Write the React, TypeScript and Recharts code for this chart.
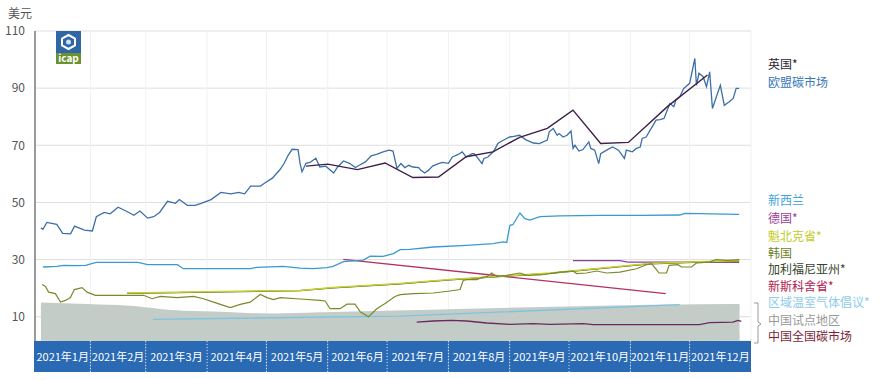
import { ComposedChart, Line, Area, XAxis, YAxis, CartesianGrid } from 'recharts';

// x values are day-of-year 2021 (Jan 1 = 0)
const monthStarts = [3, 31, 59, 90, 120, 151, 181, 212, 243, 273, 304, 334];
const monthLabels = ['2021年1月', '2021年2月', '2021年3月', '2021年4月', '2021年5月', '2021年6月', '2021年7月', '2021年8月', '2021年9月', '2021年10月', '2021年11月', '2021年12月'];
const yTicks = [10, 30, 50, 70, 90, 110];

const euPrices: [number, number][] = [
    [6, 41.1], [7, 40.6], [9, 43], [14, 42.3], [17, 39.2], [21, 39], [23, 41.7], [28, 40.3], [32, 40], [34, 45],
    [38, 46.5], [41, 46], [45, 48.3], [49, 47], [53, 45.5], [56, 47], [60, 44.5], [63, 45], [66, 46.5], [70, 50.4],
    [74, 49.7], [76, 51], [80, 49], [84, 49], [87, 49.7], [92, 51], [97, 53.5], [102, 53], [106, 53.5], [109, 53],
    [112, 55.7], [117, 55.7], [119, 56.7], [123, 58.5], [127, 61.6], [129, 63.7], [131, 66.5], [133, 68.6], [136, 68.5], [137, 63.7],
    [138, 60.7], [140, 63.7], [142, 64], [145, 65.5], [147, 62.4], [150, 62.7], [154, 60.3], [156, 62.4], [159, 64.5], [162, 63.7],
    [165, 62.2], [167, 63], [170, 64.2], [173, 66.3], [176, 66.9], [179, 67.7], [182, 68.3], [184, 68], [186, 61.9], [188, 63.6],
    [190, 62.2], [192, 63], [194, 62.4], [197, 62.2], [198, 61.3], [200, 60.3], [202, 61.3], [204, 62.7], [207, 63.6], [209, 64],
    [212, 63.7], [214, 65.9], [217, 66.8], [219, 67.7], [221, 65.9], [224, 67.1], [225, 67.1], [227, 65.4], [229, 63.6], [230, 65.4],
    [232, 65.9], [235, 68], [237, 70.6], [239, 71.5], [241, 72.2], [243, 72.9], [245, 73.1], [248, 73.5], [251, 72], [255, 70.8],
    [258, 70.6], [262, 71.8], [263, 74.7], [265, 75.9], [267, 73.5], [268, 74.1], [270, 72.9], [272, 73.5], [274, 75], [275, 68.9],
    [276, 70], [278, 68], [280, 68.5], [283, 71.2], [284, 68.9], [286, 68.3], [288, 63.6], [289, 67.1], [292, 68.3], [295, 69.4],
    [298, 68.3], [301, 65.4], [302, 68.3], [305, 67.7], [307, 68.9], [309, 69.4], [310, 72.4], [312, 72.9], [314, 75.3], [316, 77.6],
    [317, 78.8], [319, 79], [321, 79.4], [322, 81.1], [324, 84.6], [326, 83.5], [327, 85.8], [329, 87], [331, 89.9], [332, 90.5],
    [334, 91.7], [335.7, 97.4], [336.6, 100.4], [337.4, 91], [338.7, 95.2], [340.8, 94], [342.5, 90.5], [344.1, 95.7], [345.5, 82.9], [347.5, 87],
    [349.5, 91], [351.5, 84], [354, 85.2], [356, 86.4], [357.5, 89.9], [359, 89.9],
];

const ukPrices: [number, number][] = [
    [140, 62.7], [151, 63.4], [166, 61.5], [180, 63.8], [194, 58.7], [207, 58.9], [221, 66], [234.5, 67.7],
    [248, 72.8], [262, 75.9], [275, 82.3], [289, 70.6], [303, 71], [323, 83.7], [343, 94.6],
];

const nzPrices: [number, number][] = [
    [7, 27.4], [14, 27.6], [17.5, 28], [24, 27.9], [28.5, 28], [34, 29], [41, 29], [55, 29], [60, 28.2], [75, 28.2],
    [78, 26.8], [95, 26.8], [112, 26.8], [115, 27.3], [128.6, 27.6], [137, 27], [143.6, 26.8], [150.6, 27.2], [153.7, 27.6], [159, 29.3],
    [169, 29.8], [172.4, 31.2], [179, 31.1], [184.2, 32.1], [187.6, 33.5], [192.6, 33.6], [204.4, 34.4], [221.3, 35], [234.7, 35.6], [239.7, 36.2],
    [241.5, 36], [243.1, 42], [244.6, 42.2], [248.2, 46.3], [250.7, 44.3], [253.2, 43.8], [258.3, 45], [268.4, 45.3], [288.6, 45.5], [308.8, 45.5],
    [329, 45.6], [331.5, 46.2], [359, 45.8],
];

const dePrices: [number, number][] = [[275, 29.6], [298.7, 29.6], [302.7, 29.1], [339, 29.1], [359, 29]];

const qcPrices: [number, number][] = [
    [49.5, 18.3], [137, 19.2], [153.7, 20.2], [187.6, 21.6], [212.8, 23], [263.3, 25.3], [313.8, 28.6], [339, 29.2], [359, 29.6],
];

const caPrices: [number, number][] = [
    [49.5, 18.2], [137, 19.1], [153.7, 20.1], [187.6, 21.5], [212.8, 22.9], [263.3, 25.2], [313.8, 28.5], [339, 29.1], [359, 29.5],
];

const krPrices: [number, number][] = [
    [6.6, 21.3], [8.3, 20.6], [9.9, 18.6], [13.3, 18.1], [15.9, 15.1], [18.4, 15.7], [20.9, 16.7], [22.9, 19.5], [26.8, 20.2], [29.3, 18.6],
    [33.5, 17.5], [57.9, 17.5], [62.2, 16.3], [66.4, 17.1], [74.8, 16.7], [83.2, 17.1], [88.2, 16.3], [93.3, 15.1], [96.7, 14.3], [101.7, 13.2],
    [106.8, 14.3], [111.8, 15.1], [116.9, 17.8], [120.3, 16.7], [123.6, 16], [127, 16.7], [137, 16.2], [147.2, 15.7], [149.7, 15.5], [152.2, 12.8],
    [157.3, 12.8], [160.7, 14.4], [164.8, 14.4], [167.4, 11.7], [171.6, 10], [175.8, 12.8], [180, 14.6], [185, 17.1], [187.6, 17.7], [194.3, 18.1],
    [204.4, 18.3], [212.8, 19], [217.9, 19.5], [219.5, 22.7], [221.3, 23], [226.3, 23], [228.8, 23.7], [231.4, 24], [233.9, 25.3], [236.4, 24.1],
    [241.5, 24.5], [248.2, 25.3], [251.6, 24.5], [258.3, 24.6], [268.4, 25.6], [275.1, 26], [276.8, 25.1], [281.9, 25.3], [286.9, 26], [292, 25.3],
    [298.7, 25.6], [307.1, 26.8], [312.2, 28.2], [314.7, 28.6], [317.2, 26.5], [318.5, 25.3], [322.3, 25.3], [323.6, 28], [328.1, 28.2], [329.8, 27.4],
    [334.9, 27.4], [337.4, 28.8], [339.9, 28.9], [344.1, 29.2], [347.5, 30], [352.6, 29.7], [359.2, 30],
];

const nsPrices: [number, number][] = [[158.9, 30.1], [321.9, 18.1]];

const rggiPrices: [number, number][] = [[62.8, 9.1], [187.6, 10.2], [329, 14.2]];

const cnNationalPrices: [number, number][] = [
    [196, 8.1], [204.4, 8.5], [213.7, 8.7], [221.3, 8.5], [231.4, 7.8], [243.1, 7.3], [254.9, 7.6], [263.3, 7.3], [280.2, 7.6], [285.2, 7.2],
    [339, 7.2], [344, 7.9], [355.9, 8.1], [358.4, 8.7], [360.1, 8.4],
];

// China pilots: [day, low, high]
const cnPilotRange: [number, number, number][] = [
    [6, 2.6, 13.9], [29.3, 2.5, 13.4], [51.2, 2.4, 12.8], [71.4, 2.4, 11.3], [96.7, 2.4, 10.7], [121.9, 2.4, 10.1], [147.2, 2.4, 10.5],
    [163.8, 2.4, 10.8], [197.7, 2.4, 11.3], [238.1, 2.4, 12], [288.6, 2.5, 12.8], [355.8, 2.6, 13.4], [359.2, 2.6, 13.4],
];

const legendItems = [
    { label: '英国*', color: '#2b2233', y: 64 },
    { label: '欧盟碳市场', color: '#3a78b8', y: 82 },
    { label: '新西兰', color: '#45a3dc', y: 200 },
    { label: '德国*', color: '#9a3f94', y: 218 },
    { label: '魁北克省*', color: '#c3cc2a', y: 236 },
    { label: '韩国', color: '#6d7f28', y: 253 },
    { label: '加利福尼亚州*', color: '#34452a', y: 269 },
    { label: '新斯科舍省*', color: '#b3204f', y: 286 },
    { label: '区域温室气体倡议*', color: '#8ecbea', y: 302 },
    { label: '中国试点地区', color: '#999999', y: 320 },
    { label: '中国全国碳市场', color: '#7b1f3c', y: 336 },
];

const W = 881;
const H = 380;
const MARGIN = { top: 31, right: 130, bottom: 8, left: 0 };
const Y_AXIS_W = 35;
const X_MIN = 3;
const X_MAX = 365;
const PX_PER_DAY = (W - MARGIN.left - MARGIN.right - Y_AXIS_W) / (X_MAX - X_MIN);
const FONT = '"Noto Sans CJK SC", "Noto Sans", sans-serif';

const toPoints = (arr: [number, number][]) => arr.map(([d, v]) => ({ d, v }));

function MonthTick(props: any) {
    const { x, y, payload } = props;
    const i = monthStarts.indexOf(payload.value);
    if (i < 0) return null;
    const next = i < monthStarts.length - 1 ? monthStarts[i + 1] : X_MAX;
    const w = (next - payload.value) * PX_PER_DAY;
    return (
        <g>
            <rect x={x - (i === 0 ? 1 : 0)} y={y} width={w + (i === 0 ? 1 : 0)} height={31} fill="#2a69b3" />
            {i > 0 && <line x1={x} x2={x} y1={y} y2={y + 31} stroke="#ffffff" strokeOpacity={0.8} strokeDasharray="1 2" />}
            <text x={x + w / 2} y={y + 20} textAnchor="middle" fill="#ffffff" fontSize={11} fontFamily={FONT}>
                {monthLabels[i]}
            </text>
        </g>
    );
}

function IcapLogo() {
    return (
        <svg width={25} height={33} style={{ position: 'absolute', left: 56, top: 31 }}>
            <rect x={0} y={0} width={25} height={22} fill="#2f67a6" />
            <polygon points="12.5,4 19,7.5 19,14.5 12.5,18 6,14.5 6,7.5" fill="none" stroke="#ffffff" strokeWidth={2} />
            <circle cx={12.5} cy={11} r={2.5} fill="#cfe0f0" />
            <rect x={0} y={22} width={25} height={11} fill="#6b9130" />
            <text x={12.5} y={31} textAnchor="middle" fill="#ffffff" fontSize={10} fontWeight="bold" fontFamily={FONT}>icap</text>
        </svg>
    );
}

export default function App() {
    return (
        <div style={{ position: 'absolute', left: 0, top: 0, width: W, height: H, background: '#fff', fontFamily: FONT }}>
            <ComposedChart width={W} height={H} margin={MARGIN}>
                <CartesianGrid stroke="#dedede" vertical={false} />
                <CartesianGrid stroke="#f1f1f1" horizontal={false} />
                <XAxis
                    dataKey="d"
                    type="number"
                    domain={[X_MIN, X_MAX]}
                    ticks={monthStarts}
                    interval={0}
                    tick={<MonthTick />}
                    tickLine={false}
                    axisLine={false}
                    tickSize={0}
                    tickMargin={0}
                    height={31}
                    allowDataOverflow
                />
                <YAxis
                    type="number"
                    domain={[1.5, 110]}
                    ticks={yTicks}
                    width={Y_AXIS_W}
                    tickLine={false}
                    tickSize={0}
                    tickMargin={10}
                    axisLine={{ stroke: '#9a9a9a', strokeWidth: 2 }}
                    tick={{ fill: '#555', fontSize: 12, fontFamily: FONT }}
                    allowDataOverflow
                />
                <Area
                    data={cnPilotRange.map(([d, lo, hi]) => ({ d, r: [lo, hi] }))}
                    dataKey="r"
                    type="monotone"
                    stroke="#c4ccc8"
                    strokeWidth={6}
                    strokeLinejoin="round"
                    fill="#c4ccc8"
                    fillOpacity={1}
                    isAnimationActive={false}
                />
                <Line data={toPoints(rggiPrices)} dataKey="v" stroke="#7ec4e0" strokeWidth={1.3} dot={false} isAnimationActive={false} />
                <Line data={toPoints(cnNationalPrices)} dataKey="v" stroke="#6b2a5e" strokeWidth={1.3} dot={false} isAnimationActive={false} />
                <Line data={toPoints(nsPrices)} dataKey="v" stroke="#b5305e" strokeWidth={1.3} dot={false} isAnimationActive={false} />
                <Line data={toPoints(dePrices)} dataKey="v" stroke="#8b4396" strokeWidth={1.3} dot={false} isAnimationActive={false} />
                <Line data={toPoints(caPrices)} dataKey="v" stroke="#34452a" strokeWidth={1.3} dot={false} isAnimationActive={false} />
                <Line data={toPoints(qcPrices)} dataKey="v" stroke="#c8d02c" strokeWidth={1.5} dot={false} isAnimationActive={false} />
                <Line data={toPoints(krPrices)} dataKey="v" stroke="#7a8a2a" strokeWidth={1.2} dot={false} isAnimationActive={false} />
                <Line data={toPoints(nzPrices)} dataKey="v" stroke="#3a9ad0" strokeWidth={1.3} dot={false} isAnimationActive={false} />
                <Line data={toPoints(euPrices)} dataKey="v" stroke="#3c6fa8" strokeWidth={1.3} dot={false} isAnimationActive={false} />
                <Line data={toPoints(ukPrices)} dataKey="v" stroke="#3e1f46" strokeWidth={1.4} dot={false} isAnimationActive={false} />
            </ComposedChart>
            <div style={{ position: 'absolute', left: 8, top: 6, fontSize: 12, lineHeight: '14px', color: '#555' }}>美元</div>
            <IcapLogo />
            {legendItems.map((it) => (
                <div
                    key={it.label}
                    style={{ position: 'absolute', left: 768, top: it.y - 7, fontSize: 12, lineHeight: '14px', color: it.color, whiteSpace: 'nowrap' }}
                >
                    {it.label}
                </div>
            ))}
            <svg width={12} height={44} style={{ position: 'absolute', left: 752, top: 302 }}>
                <path d="M2,1 L6,1 L6,20 L9,22 L6,24 L6,41 L2,41" fill="none" stroke="#999" strokeWidth={1} />
            </svg>
        </div>
    );
}
